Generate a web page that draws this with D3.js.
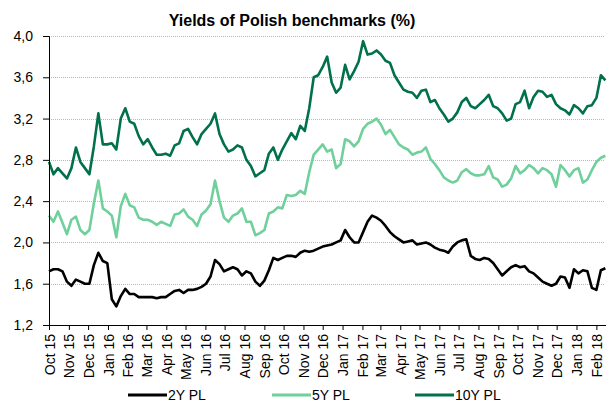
<!DOCTYPE html>
<html>
<head>
<meta charset="utf-8">
<script src="https://cdn.jsdelivr.net/npm/d3@7"></script>
<style>
body { margin: 0; background: #fff; }
svg { font-family: "Liberation Sans", Arial, sans-serif; }
</style>
</head>
<body>
<script>
// weekly readings, first one on 1 Oct 2015
var startDate = new Date(2015, 9, 1);
var endDate = new Date(2018, 1, 16);
var yTicks = [1.2, 1.6, 2.0, 2.4, 2.8, 3.2, 3.6, 4.0];
var seriesNames = ["2Y PL", "5Y PL", "10Y PL"];
var seriesColors = ["#000000", "#6fd09c", "#00714a"];

var pl2y = [1.72,1.74,1.74,1.72,1.62,1.58,1.64,1.62,1.6,1.6,1.78,1.9,1.82,1.8,1.45,1.38,1.48,1.55,1.5,1.5,1.47,
    1.47,1.47,1.47,1.46,1.47,1.47,1.5,1.53,1.54,1.51,1.54,1.54,1.55,1.57,1.6,1.67,1.83,1.79,1.72,1.74,
    1.76,1.74,1.68,1.72,1.7,1.62,1.58,1.63,1.73,1.85,1.83,1.85,1.87,1.87,1.86,1.9,1.92,1.91,1.92,1.94,1.96,
    1.97,1.98,2.0,2.02,2.12,2.05,2.0,2.0,2.1,2.2,2.26,2.24,2.21,2.16,2.1,2.06,2.03,2.0,2.01,2.02,1.98,
    1.99,2.0,1.98,1.95,1.93,1.92,1.9,1.96,2.0,2.02,2.03,1.87,1.84,1.83,1.85,1.84,1.8,1.74,1.68,1.72,
    1.76,1.78,1.76,1.77,1.72,1.7,1.66,1.62,1.6,1.58,1.6,1.67,1.66,1.56,1.74,1.7,1.73,1.72,1.56,1.54,1.73,1.75];

var pl5y = [2.26,2.2,2.3,2.19,2.08,2.22,2.25,2.12,2.08,2.12,2.38,2.6,2.33,2.3,2.26,2.05,2.35,2.47,2.36,2.34,2.24,
    2.22,2.22,2.2,2.17,2.2,2.18,2.16,2.27,2.28,2.32,2.25,2.22,2.16,2.27,2.31,2.37,2.6,2.4,2.24,2.2,
    2.26,2.28,2.33,2.2,2.2,2.07,2.09,2.12,2.28,2.3,2.34,2.33,2.46,2.45,2.46,2.5,2.47,2.68,2.85,2.9,2.95,
    2.88,2.9,2.72,2.76,3.0,2.98,2.93,2.98,3.1,3.15,3.17,3.2,3.14,3.05,3.09,3.02,2.95,2.92,2.9,2.85,2.87,
    2.88,2.92,2.81,2.76,2.7,2.63,2.6,2.58,2.6,2.68,2.71,2.67,2.65,2.65,2.66,2.74,2.63,2.61,2.54,2.56,
    2.62,2.74,2.67,2.7,2.75,2.72,2.67,2.72,2.7,2.66,2.54,2.75,2.7,2.64,2.7,2.72,2.58,2.61,2.7,2.78,2.82,2.84];

var pl10y = [2.78,2.66,2.72,2.67,2.62,2.72,2.92,2.78,2.72,2.66,2.93,3.25,2.95,2.95,2.96,2.9,3.2,3.3,3.17,3.15,3.03,
    2.95,3.0,2.92,2.85,2.85,2.86,2.84,2.94,2.96,3.08,3.1,3.02,2.95,3.05,3.1,3.15,3.25,3.05,2.95,2.88,
    2.9,2.94,2.92,2.8,2.74,2.64,2.67,2.7,2.86,2.92,2.8,2.9,2.98,3.06,3.0,3.13,3.08,3.3,3.6,3.62,3.7,
    3.8,3.55,3.45,3.5,3.72,3.58,3.66,3.75,3.95,3.82,3.83,3.86,3.82,3.76,3.74,3.62,3.55,3.48,3.46,3.45,3.4,
    3.47,3.48,3.36,3.38,3.3,3.24,3.17,3.2,3.26,3.36,3.4,3.32,3.3,3.34,3.38,3.43,3.32,3.3,3.25,3.18,
    3.2,3.34,3.36,3.47,3.3,3.41,3.47,3.46,3.41,3.43,3.34,3.3,3.28,3.24,3.33,3.3,3.25,3.32,3.33,3.4,3.62,3.57];

var allSeries = [pl2y, pl5y, pl10y];

var margin = {top: 36, right: 2, bottom: 78, left: 49},
    width = 608 - margin.left - margin.right,
    height = 403 - margin.top - margin.bottom;

var svg = d3.select("body").append("svg")
    .attr("width", 608)
    .attr("height", 403);

var g = svg.append("g")
    .attr("transform", "translate(" + margin.left + "," + margin.top + ")");

var x = d3.scaleTime()
    .domain([startDate, endDate])
    .range([0, width]);

var y = d3.scaleLinear()
    .domain([1.2, 4.0])
    .range([height, 0]);

var comma = function(d) { return d3.format(".1f")(d).replace(".", ","); };

// dotted grid
g.append("g")
    .selectAll("line")
    .data(yTicks.slice(1))
    .enter()
    .append("line")
    .attr("x1", 0)
    .attr("x2", width - 1)
    .attr("y1", d => Math.round(y(d)) + 0.5)
    .attr("y2", d => Math.round(y(d)) + 0.5)
    .attr("stroke", "#b8b8b8")
    .attr("stroke-dasharray", "1,1");

var line = d3.line()
    .x((d, i) => x(d3.timeDay.offset(startDate, 7 * i)))
    .y(d => y(d));

[2, 1, 0].forEach(function(k) {
    g.append("path")
        .datum(allSeries[k])
        .attr("fill", "none")
        .attr("stroke", seriesColors[k])
        .attr("stroke-width", 2.6)
        .attr("stroke-linejoin", "round")
        .attr("d", line);
});

var yAxis = g.append("g")
    .call(d3.axisLeft(y).tickValues(yTicks).tickFormat(comma).tickSize(6).tickPadding(10));

var xAxis = g.append("g")
    .attr("transform", "translate(0," + height + ")")
    .call(d3.axisBottom(x).ticks(d3.timeMonth.every(1)).tickFormat(d3.timeFormat("%b %y")).tickSize(5).tickPadding(4));

xAxis.selectAll(".tick text")
    .attr("transform", "rotate(-90)")
    .attr("x", -9)
    .attr("y", 0)
    .attr("dy", "0.36em")
    .style("text-anchor", "end");

[yAxis, xAxis].forEach(function(a) {
    a.selectAll("text").style("font-size", "14px").style("fill", "#000").style("font-family", "Liberation Sans, Arial, sans-serif");
    a.selectAll("line").attr("stroke", "#000");
    a.select(".domain").attr("stroke", "#000");
});
xAxis.select(".domain").attr("d", "M0,0.5H" + width);

svg.append("text")
    .attr("x", 292)
    .attr("y", 26)
    .style("text-anchor", "middle")
    .style("font-size", "16px")
    .style("font-weight", "bold")
    .text("Yields of Polish benchmarks (%)");

var legendX = [128, 272, 415];
var legend = svg.append("g")
    .selectAll("g")
    .data(seriesNames)
    .enter()
    .append("g")
    .attr("transform", (d, i) => "translate(" + legendX[i] + ",395)");

legend.append("line")
    .attr("x1", 0)
    .attr("x2", 39)
    .attr("stroke", (d, i) => seriesColors[i])
    .attr("stroke-width", 3);

legend.append("text")
    .attr("x", 40)
    .attr("y", 5)
    .style("font-size", "14px")
    .text(d => d);
</script>
</body>
</html>
